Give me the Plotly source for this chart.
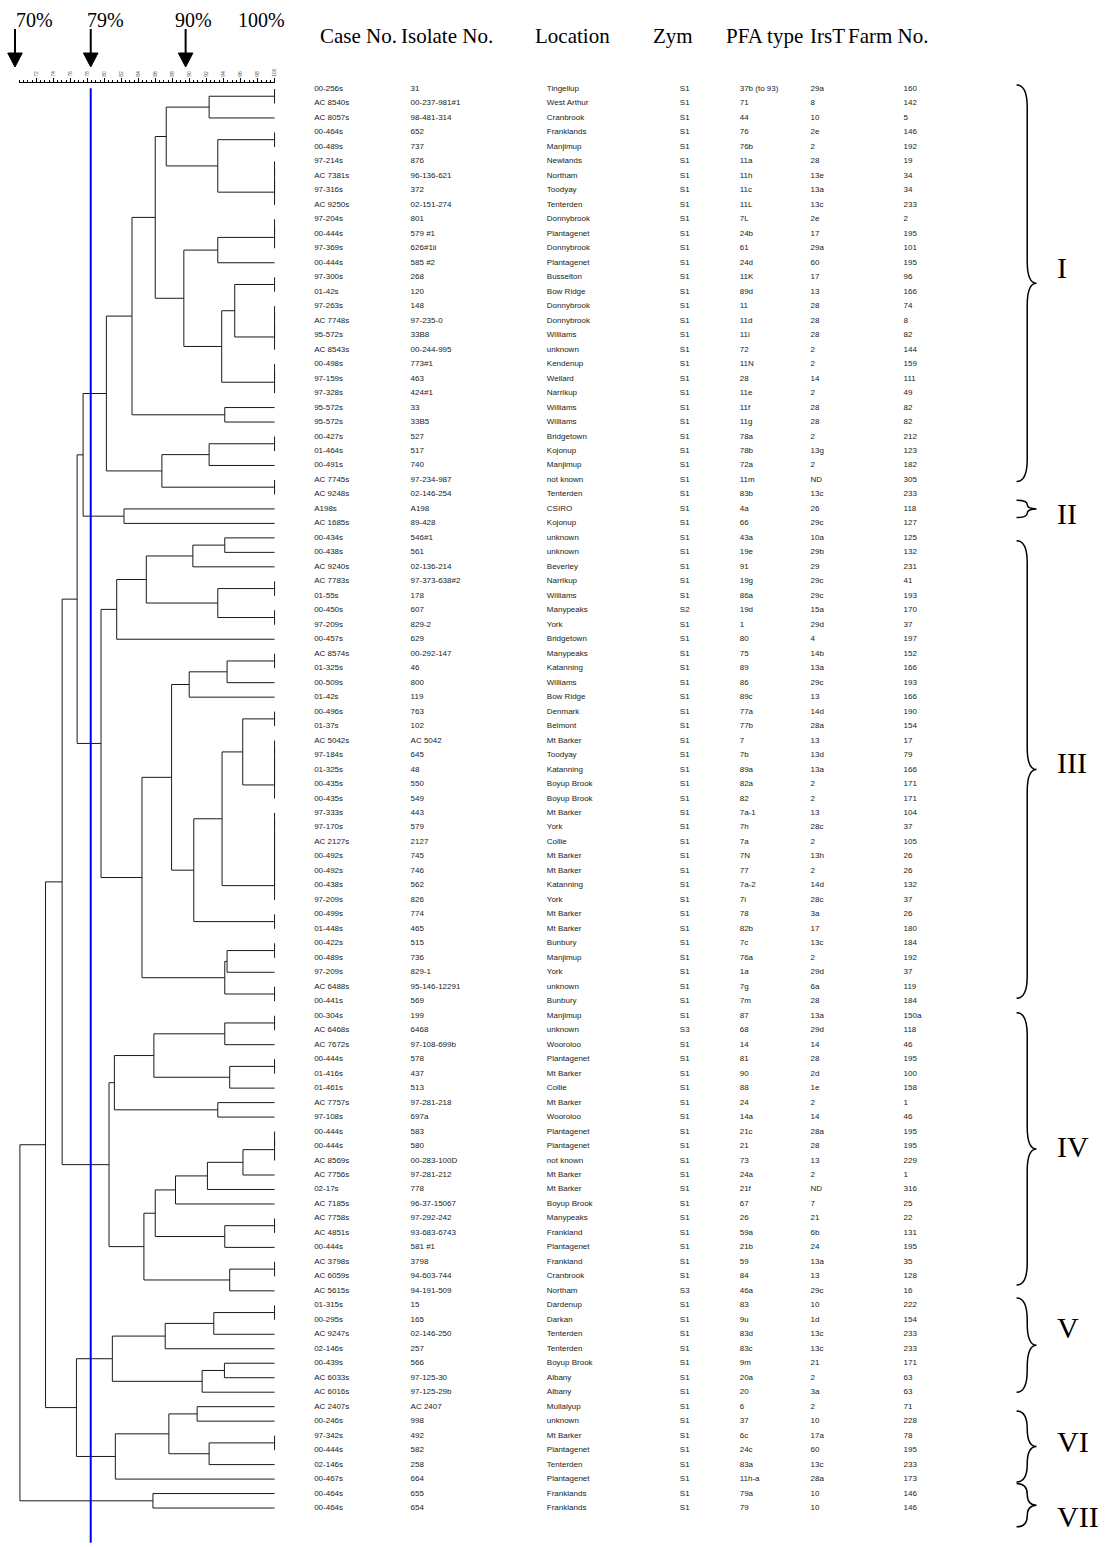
import plotly.graph_objects as go

W, H = 1113, 1547

# ---------------- data ----------------
case_no = ["00-256s", "AC 8540s", "AC 8057s", "00-464s", "00-489s", "97-214s", "AC 7381s", "97-316s", "AC 9250s",
           "97-204s", "00-444s", "97-369s", "00-444s", "97-300s", "01-42s", "97-263s", "AC 7748s", "95-572s",
           "AC 8543s", "00-498s", "97-159s", "97-328s", "95-572s", "95-572s", "00-427s", "01-464s", "00-491s",
           "AC 7745s", "AC 9248s", "A198s", "AC 1685s", "00-434s", "00-438s", "AC 9240s", "AC 7783s", "01-55s",
           "00-450s", "97-209s", "00-457s", "AC 8574s", "01-325s", "00-509s", "01-42s", "00-496s", "01-37s",
           "AC 5042s", "97-184s", "01-325s", "00-435s", "00-435s", "97-333s", "97-170s", "AC 2127s", "00-492s",
           "00-492s", "00-438s", "97-209s", "00-499s", "01-448s", "00-422s", "00-489s", "97-209s", "AC 6488s",
           "00-441s", "00-304s", "AC 6468s", "AC 7672s", "00-444s", "01-416s", "01-461s", "AC 7757s", "97-108s",
           "00-444s", "00-444s", "AC 8569s", "AC 7756s", "02-17s", "AC 7185s", "AC 7758s", "AC 4851s", "00-444s",
           "AC 3798s", "AC 6059s", "AC 5615s", "01-315s", "00-295s", "AC 9247s", "02-146s", "00-439s", "AC 6033s",
           "AC 6016s", "AC 2407s", "00-246s", "97-342s", "00-444s", "02-146s", "00-467s", "00-464s", "00-464s"]

isolate_no = ["31", "00-237-981#1", "98-481-314", "652", "737", "876", "96-136-621", "372", "02-151-274",
              "801", "579 #1", "626#1ii", "585 #2", "268", "120", "148", "97-235-0", "33B8",
              "00-244-995", "773#1", "463", "424#1", "33", "33B5", "527", "517", "740",
              "97-234-987", "02-146-254", "A198", "89-428", "546#1", "561", "02-136-214", "97-373-638#2", "178",
              "607", "829-2", "629", "00-292-147", "46", "800", "119", "763", "102",
              "AC 5042", "645", "48", "550", "549", "443", "579", "2127", "745",
              "746", "562", "826", "774", "465", "515", "736", "829-1", "95-146-12291",
              "569", "199", "6468", "97-108-699b", "578", "437", "513", "97-281-218", "697a",
              "583", "580", "00-283-100D", "97-281-212", "778", "96-37-15067", "97-292-242", "93-683-6743", "581 #1",
              "3798", "94-603-744", "94-191-509", "15", "165", "02-146-250", "257", "566", "97-125-30",
              "97-125-29b", "AC 2407", "998", "492", "582", "258", "664", "655", "654"]

location = ["Tingellup", "West Arthur", "Cranbrook", "Franklands", "Manjimup", "Newlands", "Northam", "Toodyay",
            "Tenterden", "Donnybrook", "Plantagenet", "Donnybrook", "Plantagenet", "Busselton", "Bow Ridge",
            "Donnybrook", "Donnybrook", "Williams", "unknown", "Kendenup", "Wellard", "Narrikup", "Williams",
            "Williams", "Bridgetown", "Kojonup", "Manjimup", "not known", "Tenterden", "CSIRO", "Kojonup",
            "unknown", "unknown", "Beverley", "Narrikup", "Williams", "Manypeaks", "York", "Bridgetown",
            "Manypeaks", "Katanning", "Williams", "Bow Ridge", "Denmark", "Belmont", "Mt Barker", "Toodyay",
            "Katanning", "Boyup Brook", "Boyup Brook", "Mt Barker", "York", "Collie", "Mt Barker", "Mt Barker",
            "Katanning", "York", "Mt Barker", "Mt Barker", "Bunbury", "Manjimup", "York", "unknown", "Bunbury",
            "Manjimup", "unknown", "Wooroloo", "Plantagenet", "Mt Barker", "Collie", "Mt Barker", "Wooroloo",
            "Plantagenet", "Plantagenet", "not known", "Mt Barker", "Mt Barker", "Boyup Brook", "Manypeaks",
            "Frankland", "Plantagenet", "Frankland", "Cranbrook", "Northam", "Dardenup", "Darkan", "Tenterden",
            "Tenterden", "Boyup Brook", "Albany", "Albany", "Mullalyup", "unknown", "Mt Barker", "Plantagenet",
            "Tenterden", "Plantagenet", "Franklands", "Franklands"]

zym = ["S1"] * 99
zym[36] = "S2"
zym[65] = "S3"
zym[83] = "S3"

pfa_type = ["37b (to 93)", "71", "44", "76", "76b", "11a", "11h", "11c", "11L", "7L", "24b", "61", "24d", "11K",
            "89d", "11", "11d", "11i", "72", "11N", "28", "11e", "11f", "11g", "78a", "78b", "72a", "11m", "83b",
            "4a", "66", "43a", "19e", "91", "19g", "86a", "19d", "1", "80", "75", "89", "86", "89c", "77a", "77b",
            "7", "7b", "89a", "82a", "82", "7a-1", "7h", "7a", "7N", "77", "7a-2", "7i", "78", "82b", "7c", "76a",
            "1a", "7g", "7m", "87", "68", "14", "81", "90", "88", "24", "14a", "21c", "21", "73", "24a", "21f",
            "67", "26", "59a", "21b", "59", "84", "46a", "83", "9u", "83d", "83c", "9m", "20a", "20", "6", "37",
            "6c", "24c", "83a", "11h-a", "79a", "79"]

irst = ["29a", "8", "10", "2e", "2", "28", "13e", "13a", "13c", "2e", "17", "29a", "60", "17", "13", "28", "28",
        "28", "2", "2", "14", "2", "28", "28", "2", "13g", "2", "ND", "13c", "26", "29c", "10a", "29b", "29",
        "29c", "29c", "15a", "29d", "4", "14b", "13a", "29c", "13", "14d", "28a", "13", "13d", "13a", "2", "2",
        "13", "28c", "2", "13h", "2", "14d", "28c", "3a", "17", "13c", "2", "29d", "6a", "28", "13a", "29d",
        "14", "28", "2d", "1e", "2", "14", "28a", "28", "13", "2", "ND", "7", "21", "6b", "24", "13a", "13",
        "29c", "10", "1d", "13c", "13c", "21", "2", "3a", "2", "10", "17a", "60", "13c", "28a", "10", "10"]

farm_no = ["160", "142", "5", "146", "192", "19", "34", "34", "233", "2", "195", "101", "195", "96", "166", "74",
           "8", "82", "144", "159", "111", "49", "82", "82", "212", "123", "182", "305", "233", "118", "127",
           "125", "132", "231", "41", "193", "170", "37", "197", "152", "166", "193", "166", "190", "154", "17",
           "79", "166", "171", "171", "104", "37", "105", "26", "26", "132", "37", "26", "180", "184", "192",
           "37", "119", "184", "150a", "118", "46", "195", "100", "158", "1", "46", "195", "195", "229", "1",
           "316", "25", "22", "131", "195", "35", "128", "16", "222", "154", "233", "233", "171", "63", "63",
           "71", "228", "78", "195", "233", "173", "146", "146"]

# dendrogram merges: (node, left child, right child, similarity %) ; ints are row numbers (1-based)
merges = [
    ("c1_2", 1, 2, 100), ("c1_3", "c1_2", 3, 92.31),
    ("c4_5", 4, 5, 100), ("c6_7", 6, 7, 100), ("c6_8", "c6_7", 8, 100), ("c6_9", "c6_8", 9, 100),
    ("c4_9", "c4_5", "c6_9", 93.33), ("c1_9", "c1_3", "c4_9", 87.27),
    ("c10_11", 10, 11, 100), ("c10_12", "c10_11", 12, 100), ("c10_13", "c10_12", 13, 93.33),
    ("c14_15", 14, 15, 100), ("c16_17", 16, 17, 100), ("c16_18", "c16_17", 18, 100), ("c16_19", "c16_18", 19, 100),
    ("c14_19", "c14_15", "c16_19", 95.32),
    ("c20_21", 20, 21, 100), ("c20_22", "c20_21", 22, 100), ("c14_22", "c14_19", "c20_22", 93.79),
    ("c10_22", "c10_13", "c14_22", 89.34), ("c1_22", "c1_9", "c10_22", 85.98),
    ("c23_24", 23, 24, 94.15), ("c1_24", "c1_22", "c23_24", 83.25),
    ("c25_26", 25, 26, 100), ("c25_27", "c25_26", 27, 92.31), ("c28_29", 28, 29, 100),
    ("c25_29", "c25_27", "c28_29", 86.76), ("c1_29", "c1_24", "c25_29", 80.24),
    ("c30_31", 30, 31, 82.31), ("c1_31", "c1_29", "c30_31", 77.50),
    ("c32_33", 32, 33, 94.15), ("c32_34", "c32_33", 34, 90.40),
    ("c35_36", 35, 36, 100), ("c37_38", 37, 38, 100), ("c35_38", "c35_36", "c37_38", 93.33),
    ("c32_38", "c32_34", "c35_38", 84.93), ("c32_39", "c32_38", 39, 81.45),
    ("c40_41", 40, 41, 100), ("c40_42", "c40_41", 42, 94.42), ("c40_43", "c40_42", 43, 89.97),
    ("c44_45", 44, 45, 100), ("c46_47", 46, 47, 100), ("c46_48", "c46_47", 48, 100), ("c46_49", "c46_48", 49, 100),
    ("c46_50", "c46_49", 50, 100), ("c44_50", "c44_45", "c46_50", 96.26),
    ("c51_52", 51, 52, 100), ("c51_53", "c51_52", 53, 100), ("c51_54", "c51_53", 54, 100),
    ("c51_55", "c51_54", 55, 100), ("c51_56", "c51_55", 56, 100), ("c51_57", "c51_56", 57, 100),
    ("c44_57", "c44_50", "c51_57", 93.83), ("c58_59", 58, 59, 100), ("c44_59", "c44_57", "c58_59", 90.51),
    ("c40_59", "c40_43", "c44_59", 87.90),
    ("c60_61", 60, 61, 100), ("c60_62", "c60_61", 62, 94.42), ("c63_64", 63, 64, 100),
    ("c60_64", "c60_62", "c63_64", 94.15), ("c40_64", "c40_59", "c60_64", 84.42),
    ("c32_64", "c32_39", "c40_64", 79.61), ("c1_64", "c1_31", "c32_64", 76.80),
    ("c65_66", 65, 66, 100), ("c65_67", "c65_66", 67, 94.15), ("c68_69", 68, 69, 100),
    ("c68_70", "c68_69", 70, 94.73), ("c65_70", "c65_67", "c68_70", 85.82),
    ("c71_72", 71, 72, 93.33), ("c65_72", "c65_70", "c71_72", 81.18),
    ("c73_74", 73, 74, 100), ("c73_75", "c73_74", 75, 100), ("c73_76", "c73_75", 76, 96.29),
    ("c73_77", "c73_76", 77, 92.11), ("c73_78", "c73_77", 78, 88.36),
    ("c79_80", 79, 80, 100), ("c79_81", "c79_80", 81, 94.15), ("c73_81", "c73_78", "c79_81", 85.98),
    ("c82_83", 82, 83, 100), ("c82_84", "c82_83", 84, 94.73), ("c73_84", "c73_81", "c82_84", 84.65),
    ("c65_84", "c65_72", "c73_84", 80.55), ("c1_84", "c1_64", "c65_84", 75.04),
    ("c85_86", 85, 86, 100), ("c85_87", "c85_86", 87, 92.86), ("c85_88", "c85_87", 88, 87.15),
    ("c89_90", 89, 90, 94.11), ("c89_91", "c89_90", 91, 91.49), ("c85_91", "c85_88", "c89_91", 80.94),
    ("c92_93", 92, 93, 90.90), ("c94_95", 94, 95, 100), ("c94_96", "c94_95", 96, 92.31),
    ("c92_96", "c92_93", "c94_96", 87.58), ("c92_97", "c92_96", 97, 81.29),
    ("c85_97", "c85_91", "c92_97", 76.72), ("c1_97", "c1_84", "c85_97", 73.09),
    ("c98_99", 98, 99, 85.71), ("root", "c1_97", "c98_99", 70.08),
]

cutoff = 78.4
arrow_pct = [69.5, 78.4, 89.55]
pct_labels = ["70%", "79%", "90%", "100%"]
pct_label_pos = [71.8, 80.1, 90.5, 98.5]
ruler_ticks = list(range(72, 101, 2))

headers = ["Case No.", "Isolate No.", "Location", "Zym", "PFA type", "IrsT", "Farm No."]

cluster_names = ["I", "II", "III", "IV", "V", "VI", "VII"]
cluster_top = [0.72, 29.4, 32.2, 64.8, 84.5, 92.3, 97.3]
cluster_bottom = [28.1, 30.6, 63.8, 83.6, 91.0, 97.2, 100.3]
cluster_label_row = [13.3, 30.3, 47.5, 74.0, 86.5, 94.4, 99.6]

# ---------------- layout constants ----------------
X70, X100 = 19.3, 275.3          # pixel x of 70% and 100%
PPP = (X100 - X70) / 30.0        # pixels per percent
ROW1_Y, PITCH = 89.0, 14.48      # pixel y of row 1, row pitch
RULER_Y = 81.7
col_x = [315, 411.7, 548.3, 681.7, 741.7, 812.7, 906]
header_x = [319, 400, 534, 653, 726, 810, 848]
HEADER_Y = 36
BR_END, BR_MID, BR_TIP = 1019.3, 1030.0, 1039.3
NUM_X = 1058

SERIF = "Liberation Serif, Times New Roman, serif"
SANS = "Arial, Liberation Sans, sans-serif"

rows = list(range(1, 100))

fig = go.Figure()

# dendrogram
pos = {r: (100.0, float(r)) for r in rows}
dx, dy = [], []
for name, a, b, s in merges:
    xa, ya = pos[a]
    xb, yb = pos[b]
    dx += [xa, s, s, xb, None]
    dy += [ya, ya, yb, yb, None]
    pos[name] = (s, (ya + yb) / 2.0)
fig.add_trace(go.Scatter(x=dx, y=dy, mode="lines", line=dict(color="#1a1a1a", width=1),
                         hoverinfo="skip", xaxis="x", yaxis="y"))

# text columns
for cx, vals in zip(col_x, [case_no, isolate_no, location, zym, pfa_type, irst, farm_no]):
    fig.add_trace(go.Scatter(x=[cx] * len(vals), y=rows, mode="text", text=vals,
                             textposition="middle right",
                             textfont=dict(family=SANS, size=8, color="#222222"),
                             hoverinfo="skip", xaxis="x2", yaxis="y"))

# dummy trace so the ruler axis is drawn
fig.add_trace(go.Scatter(x=[85], y=[-20], mode="markers", marker=dict(opacity=0),
                         hoverinfo="skip", xaxis="x3", yaxis="y"))

shapes = []
# cutoff line
shapes.append(dict(type="line", xref="x", yref="y", x0=cutoff, x1=cutoff, y0=0.95, y1=101.4,
                   line=dict(color="#0000ff", width=2)))
# arrows
hw = 7.3 / PPP
for a in arrow_pct:
    shapes.append(dict(type="line", xref="x", yref="paper", x0=a, x1=a,
                       y0=1 - 29 / H, y1=1 - 55 / H, line=dict(color="black", width=2)))
    shapes.append(dict(type="path", xref="x", yref="paper",
                       path=f"M {a - hw},{1 - 53 / H} L {a + hw},{1 - 53 / H} L {a},{1 - 67 / H} Z",
                       fillcolor="black", line=dict(color="black", width=1)))
# braces
for top, bot in zip(cluster_top, cluster_bottom):
    mid = (top + bot) / 2.0
    r = min(22.0 / PITCH, (bot - top) / 4.0)
    p = (f"M {BR_END},{top} Q {BR_MID},{top} {BR_MID},{top + r} "
         f"L {BR_MID},{mid - r} Q {BR_MID},{mid} {BR_TIP},{mid} "
         f"Q {BR_MID},{mid} {BR_MID},{mid + r} L {BR_MID},{bot - r} "
         f"Q {BR_MID},{bot} {BR_END},{bot}")
    shapes.append(dict(type="path", xref="x2", yref="y", path=p, line=dict(color="black", width=1.5)))

annotations = []
for t, p in zip(pct_labels, pct_label_pos):
    annotations.append(dict(text=t, x=p, y=1 - 20 / H, xref="x", yref="paper", showarrow=False,
                            xanchor="center", yanchor="middle", font=dict(family=SERIF, size=20, color="black")))
for t, hx in zip(headers, header_x):
    annotations.append(dict(text=t, x=hx, y=1 - HEADER_Y / H, xref="x2", yref="paper", showarrow=False,
                            xanchor="left", yanchor="middle", font=dict(family=SERIF, size=21, color="black")))
for t, rr in zip(cluster_names, cluster_label_row):
    annotations.append(dict(text=t, x=NUM_X, y=rr, xref="x2", yref="y", showarrow=False,
                            xanchor="left", yanchor="middle", font=dict(family=SERIF, size=30, color="black")))

fig.update_layout(
    width=W, height=H, margin=dict(l=0, r=0, t=0, b=0),
    paper_bgcolor="white", plot_bgcolor="rgba(0,0,0,0)", showlegend=False, hovermode=False,
    xaxis=dict(domain=[0, 1], range=[70 - X70 / PPP, 70 + (W - X70) / PPP], visible=False, fixedrange=True),
    yaxis=dict(domain=[0, 1], range=[1 + (H - ROW1_Y) / PITCH, 1 - ROW1_Y / PITCH], visible=False, fixedrange=True),
    xaxis2=dict(range=[0, W], overlaying="x", visible=False, fixedrange=True, anchor="y"),
    xaxis3=dict(domain=[X70 / W, X100 / W], range=[70, 100], anchor="free", position=1 - RULER_Y / H,
                side="top", showline=True, linecolor="black", linewidth=1,
                ticks="outside", ticklen=4, tickwidth=1, tickcolor="black",
                tickvals=ruler_ticks, ticktext=[str(v) for v in ruler_ticks], tickangle=-90,
                tickfont=dict(family=SANS, size=5, color="#555555"),
                minor=dict(dtick=0.5, ticks="outside", ticklen=2, tickcolor="black", tickwidth=1),
                showgrid=False, zeroline=False, fixedrange=True),
    shapes=shapes, annotations=annotations,
)

fig.write_html("out.html")
